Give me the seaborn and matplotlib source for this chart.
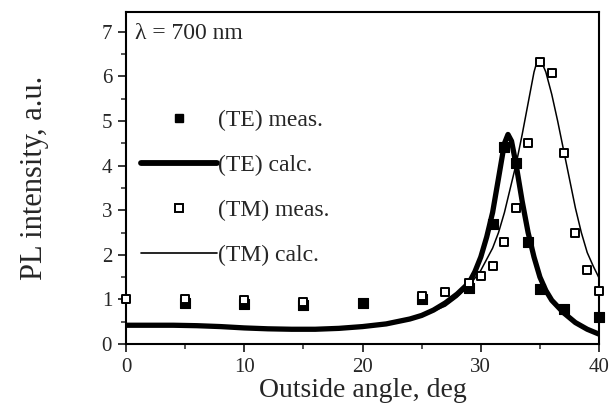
import numpy as np
import pandas as pd
import matplotlib
matplotlib.use("Agg")
import matplotlib.pyplot as plt
from matplotlib.lines import Line2D
from matplotlib.ticker import MultipleLocator
import seaborn as sns

# === Data ===
te_meas_x = [5, 10, 15, 20, 25, 29, 31, 32, 33, 34, 35, 37, 40]
te_meas_y = [0.93, 0.90, 0.88, 0.91, 1.00, 1.26, 2.70, 4.42, 4.05, 2.29, 1.23, 0.78, 0.60]

tm_meas_x = [0, 5, 10, 15, 25, 27, 29, 30, 31, 32, 33, 34, 35, 36, 37, 38, 39, 40]
tm_meas_y = [1.00, 1.00, 0.98, 0.95, 1.07, 1.16, 1.36, 1.53, 1.76, 2.29, 3.06, 4.51,
             6.33, 6.07, 4.28, 2.49, 1.65, 1.18]

te_calc_x = [0, 2, 4, 6, 8, 10, 12, 14, 16, 18, 20, 22, 24, 25, 26, 27, 28, 29, 29.5,
             30, 30.5, 31, 31.5, 32, 32.3, 32.6, 33, 33.5, 34, 34.5, 35, 35.5, 36, 37,
             38, 39, 40]
te_calc_y = [0.42, 0.42, 0.42, 0.41, 0.39, 0.36, 0.34, 0.33, 0.33, 0.35, 0.39, 0.45,
             0.56, 0.64, 0.76, 0.92, 1.12, 1.37, 1.62, 1.95, 2.40, 2.95, 3.72, 4.50,
             4.70, 4.55, 4.00, 3.20, 2.50, 1.95, 1.50, 1.20, 0.98, 0.70, 0.48, 0.33, 0.22]

tm_calc_x = [0, 2, 4, 6, 8, 10, 12, 14, 16, 18, 20, 22, 24, 25, 26, 27, 28, 29, 30,
             31, 31.5, 32, 32.5, 33, 33.5, 34, 34.5, 34.8, 35.1, 35.5, 36, 36.5, 37,
             37.5, 38, 38.5, 39, 39.5, 40]
tm_calc_y = [0.42, 0.42, 0.42, 0.41, 0.39, 0.36, 0.34, 0.33, 0.33, 0.35, 0.39, 0.45,
             0.56, 0.64, 0.74, 0.85, 1.05, 1.30, 1.65, 2.15, 2.50, 2.95, 3.50, 4.05,
             4.70, 5.40, 6.10, 6.38, 6.35, 6.10, 5.60, 5.00, 4.35, 3.70, 3.05, 2.50,
             2.05, 1.75, 1.48]

labels = ["(TE) meas.", "(TE) calc.", "(TM) meas.", "(TM) calc."]

# === Style ===
sns.set_style("ticks")
plt.rcParams["font.family"] = ["Liberation Serif", "DejaVu Serif"]
plt.rcParams["xtick.direction"] = "out"
plt.rcParams["ytick.direction"] = "out"

fig = plt.figure(figsize=(6.16, 4.09), dpi=100)
ax = fig.add_axes([0.2045, 0.159, 0.768, 0.812])

# === Curves ===
sns.lineplot(x=te_calc_x, y=te_calc_y, ax=ax, color="black", linewidth=3.8,
             sort=False, zorder=2)
sns.lineplot(x=tm_calc_x, y=tm_calc_y, ax=ax, color="black", linewidth=1.1,
             sort=False, zorder=3)

# === Measured points ===
sns.scatterplot(x=te_meas_x, y=te_meas_y, ax=ax, marker="s", s=42, color="black",
                edgecolor="black", linewidth=0.8, zorder=4, clip_on=False)
sns.scatterplot(x=tm_meas_x, y=tm_meas_y, ax=ax, marker="s", s=38, color="white",
                edgecolor="black", linewidth=1.4, zorder=5, clip_on=False)

ax.set_xlim(0, 40)
ax.set_ylim(0, 7.45)
ax.xaxis.set_major_locator(MultipleLocator(10))
ax.xaxis.set_minor_locator(MultipleLocator(5))
ax.yaxis.set_major_locator(MultipleLocator(1))
ax.yaxis.set_minor_locator(MultipleLocator(0.5))
ax.tick_params(which="major", length=6, width=1.3, labelsize=15, pad=4)
ax.tick_params(which="minor", length=3.5, width=1.1)
for sp in ax.spines.values():
    sp.set_linewidth(1.5)
    sp.set_color("black")

ax.set_xlabel("Outside angle, deg", fontsize=20, labelpad=1)
ax.set_ylabel("PL intensity, a.u.", fontsize=22, labelpad=38)

ax.text(0.02, 0.935, "\u03bb = 700 nm", transform=ax.transAxes, fontsize=17,
        va="center", ha="left")

# === Legend ===
handles = [
    Line2D([], [], linestyle="none", marker="s", markersize=6, color="black"),
    Line2D([], [], color="black", linewidth=4.2),
    Line2D([], [], linestyle="none", marker="s", markersize=5.5,
           markerfacecolor="white", markeredgecolor="black", markeredgewidth=1.4),
    Line2D([], [], color="black", linewidth=1.2),
]
ax.legend(handles, labels, loc="upper left", bbox_to_anchor=(0.012, 0.735),
          frameon=False, fontsize=17, handlelength=3.2, handletextpad=0.05,
          labelspacing=1.0, borderaxespad=0)

fig.savefig("out.png", dpi=100)
